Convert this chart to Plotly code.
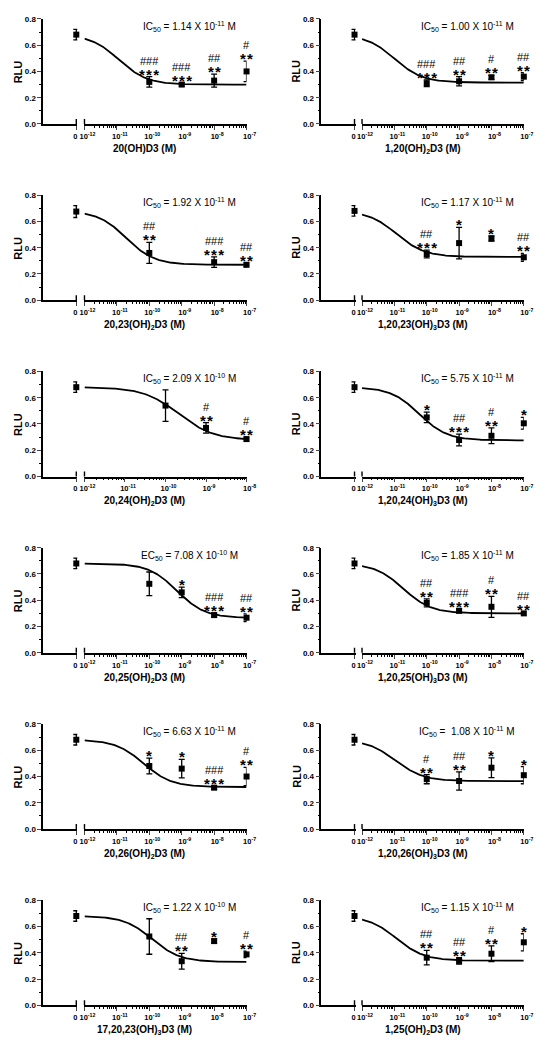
import numpy as np
import plotly.graph_objects as go

# ---------------- data ----------------
compounds = ["20(OH)D3 (M)", "1,20(OH)<sub>2</sub>D3 (M)",
             "20,23(OH)<sub>2</sub>D3 (M)", "1,20,23(OH)<sub>3</sub>D3 (M)",
             "20,24(OH)<sub>2</sub>D3 (M)", "1,20,24(OH)<sub>3</sub>D3 (M)",
             "20,25(OH)<sub>2</sub>D3 (M)", "1,20,25(OH)<sub>3</sub>D3 (M)",
             "20,26(OH)<sub>2</sub>D3 (M)", "1,20,26(OH)<sub>3</sub>D3 (M)",
             "17,20,23(OH)<sub>3</sub>D3 (M)", "1,25(OH)<sub>2</sub>D3 (M)"]
ec_prefix = ["IC", "IC", "IC", "IC", "IC", "IC", "EC", "IC", "IC", "IC", "IC", "IC"]
ec_mantissa = ["1.14", "1.00", "1.92", "1.17", "2.09", "5.75", "7.08", "1.85", "6.63", "&nbsp;1.08", "1.22", "1.15"]
ec_exponent = [-11, -11, -11, -11, -10, -11, -10, -11, -11, -11, -10, -11]

x_max_exp = [-7, -7, -7, -7, -8, -7, -7, -7, -7, -7, -7, -7]

zero_mean = [0.68, 0.68, 0.675, 0.68, 0.68, 0.68, 0.68, 0.68, 0.68, 0.68, 0.68, 0.68]
zero_err = [0.04, 0.04, 0.045, 0.04, 0.04, 0.04, 0.04, 0.04, 0.04, 0.04, 0.04, 0.04]

doses = [[1e-10, 1e-9, 1e-8, 1e-7], [1e-10, 1e-9, 1e-8, 1e-7],
         [1e-10, 1e-8, 1e-7], [1e-10, 1e-9, 1e-8, 1e-7],
         [1e-10, 1e-9, 1e-8], [1e-10, 1e-9, 1e-8, 1e-7],
         [1e-10, 1e-9, 1e-8, 1e-7], [1e-10, 1e-9, 1e-8, 1e-7],
         [1e-10, 1e-9, 1e-8, 1e-7], [1e-10, 1e-9, 1e-8, 1e-7],
         [1e-10, 1e-9, 1e-8, 1e-7], [1e-10, 1e-9, 1e-8, 1e-7]]
means = [[0.32, 0.30, 0.33, 0.40], [0.31, 0.325, 0.355, 0.36],
         [0.36, 0.29, 0.27], [0.352, 0.435, 0.47, 0.327],
         [0.54, 0.37, 0.285], [0.45, 0.278, 0.31, 0.405],
         [0.525, 0.46, 0.287, 0.267], [0.38, 0.32, 0.35, 0.30],
         [0.48, 0.46, 0.315, 0.40], [0.38, 0.366, 0.467, 0.41],
         [0.524, 0.336, 0.489, 0.388], [0.363, 0.338, 0.393, 0.48]]
errs = [[0.04, 0.012, 0.05, 0.078], [0.025, 0.035, 0.015, 0.03],
        [0.08, 0.04, 0.015], [0.03, 0.12, 0.02, 0.03],
        [0.12, 0.04, 0.015], [0.04, 0.045, 0.06, 0.045],
        [0.09, 0.04, 0.015, 0.03], [0.03, 0.015, 0.08, 0.008],
        [0.06, 0.07, 0.012, 0.07], [0.035, 0.07, 0.075, 0.065],
        [0.135, 0.06, 0.015, 0.025], [0.055, 0.025, 0.06, 0.065]]
sig_hash = [["###", "###", "##", "#"], ["###", "##", "#", "##"],
            ["##", "###", "##"], ["##", "", "", "##"],
            ["", "#", "#"], ["", "##", "#", ""],
            ["", "", "###", "##"], ["##", "###", "#", "##"],
            ["", "", "###", "#"], ["#", "##", "", ""],
            ["", "##", "", "#"], ["##", "##", "#", ""]]
sig_star = [["***", "***", "**", "**"], ["***", "**", "**", "**"],
            ["**", "***", "**"], ["***", "*", "*", "**"],
            ["", "**", "**"], ["*", "***", "**", "*"],
            ["", "*", "***", "**"], ["**", "***", "**", "**"],
            ["*", "*", "***", "**"], ["**", "**", "*", "*"],
            ["", "**", "*", "**"], ["**", "**", "**", "*"]]

# fitted sigmoid parameters
fit_top = [0.68] * 12
fit_bottom = [0.30, 0.315, 0.27, 0.33, 0.277, 0.275, 0.265, 0.30, 0.32, 0.365, 0.33, 0.34]
fit_ic50 = [1.14e-11, 1.00e-11, 1.92e-11, 1.17e-11, 2.09e-10, 5.75e-11,
            7.08e-10, 1.85e-11, 6.63e-11, 1.08e-11, 1.22e-10, 1.15e-11]
fit_hill = [1.0] * 12

y_ticks = [0.0, 0.2, 0.4, 0.6, 0.8]

# ---------------- layout geometry ----------------
W, H = 552, 1050
FONT = "Liberation Sans, Arial, sans-serif"
col_yaxis_px = [39.3, 325.3]
col_log_px = [(81.7, 248.3), (367.0, 533.3)]
zero_w = 35.0
row_top_px = [15 + 177.8 * r for r in range(6)]
plot_h = 106.0


def ax_id(letter, n):
    return letter if n == 1 else f"{letter}{n}"


def ax_key(letter, n):
    return f"{letter}axis" if n == 1 else f"{letter}axis{n}"


fig = go.Figure()
layout = {}
annotations = []
shapes = []

for i in range(12):
    r, c = divmod(i, 2)
    xz = ax_id("x", 2 * i + 1)
    xl = ax_id("x", 2 * i + 2)
    yy = ax_id("y", i + 1)
    top = row_top_px[r]
    bot = top + plot_h
    ydom = [1 - bot / H, 1 - top / H]
    yx = col_yaxis_px[c]
    lx0, lx1 = col_log_px[c]

    ytickfont = dict(family=FONT, size=8, color="black", weight="bold")
    xtickfont = dict(family=FONT, size=7.5, color="black", weight="bold")
    layout[ax_key("y", i + 1)] = dict(
        domain=ydom, range=[0, 0.8], anchor=xz, showline=True, linewidth=1.6,
        linecolor="black", ticks="outside", ticklen=4, tickwidth=1.4,
        tickvals=y_ticks, ticktext=[f"{v:.1f}" for v in y_ticks],
        tickfont=ytickfont, showgrid=False, zeroline=False,
        minor=dict(dtick=0.1, ticks="outside", ticklen=2, tickwidth=1, tickcolor="black"))
    layout[ax_key("x", 2 * i + 1)] = dict(
        domain=[yx / W, (yx + zero_w) / W], range=[-1, 0.03], anchor=yy,
        showline=True, linewidth=1.6, linecolor="black", ticks="outside",
        ticklen=4, tickwidth=1.4, tickvals=[0], ticktext=["0"], ticklabelshift=-1,
        tickfont=xtickfont, showgrid=False, zeroline=False)
    emax = x_max_exp[i]
    exps = list(range(-12, emax + 1))
    minor_vals = [k * 10.0 ** e for e in range(-12, emax) for k in range(2, 10)]
    layout[ax_key("x", 2 * i + 2)] = dict(
        type="log", domain=[lx0 / W, lx1 / W], range=[-12, emax], anchor=yy,
        showline=True, linewidth=1.6, linecolor="black", ticks="outside",
        ticklen=4, tickwidth=1.4, tickvals=[10.0 ** e for e in exps],
        ticktext=[f"10<sup>{e}</sup>" for e in exps], ticklabelshift=3,
        tickfont=xtickfont, showgrid=False, zeroline=False,
        minor=dict(tickvals=minor_vals, ticks="outside", ticklen=2,
                   tickwidth=1, tickcolor="black", showgrid=False))

    # break marks crossing the axis
    for xref, xpos in ((f"{xz} domain", 1 / 1.03), (f"{xl} domain", 0.0)):
        shapes.append(dict(type="line", xref=xref, yref=yy, ysizemode="pixel",
                           yanchor=0, x0=xpos, x1=xpos, y0=-4, y1=5,
                           line=dict(color="black", width=1.4)))

    # zero-dose point
    fig.add_trace(go.Scatter(
        x=[0], y=[zero_mean[i]], xaxis=xz, yaxis=yy, mode="markers",
        marker=dict(symbol="square", size=6, color="black"),
        error_y=dict(type="data", array=[zero_err[i]], color="black", thickness=1.3, width=3),
        cliponaxis=False, showlegend=False))

    # fitted curve
    xs = np.logspace(-12, emax, 200)
    ys = fit_bottom[i] + (fit_top[i] - fit_bottom[i]) / (1 + (xs / fit_ic50[i]) ** fit_hill[i])
    fig.add_trace(go.Scatter(x=xs, y=ys, xaxis=xl, yaxis=yy, mode="lines",
                             line=dict(color="black", width=1.8), showlegend=False))

    # dose points
    fig.add_trace(go.Scatter(
        x=doses[i], y=means[i], xaxis=xl, yaxis=yy, mode="markers",
        marker=dict(symbol="square", size=6, color="black"),
        error_y=dict(type="data", array=errs[i], color="black", thickness=1.3, width=3),
        cliponaxis=False, showlegend=False))

    # significance marks
    for d, m, e, h, s in zip(doses[i], means[i], errs[i], sig_hash[i], sig_star[i]):
        if s:
            annotations.append(dict(
                x=np.log10(d), y=m + e, xref=xl, yref=yy, text="\u200a".join(s),
                showarrow=False, xanchor="center", yanchor="bottom", yshift=-8,
                font=dict(family=FONT, size=15, color="black", weight="bold")))
        if h:
            annotations.append(dict(
                x=np.log10(d), y=m + e, xref=xl, yref=yy, text=h, showarrow=False,
                xanchor="center", yanchor="bottom", yshift=8,
                font=dict(family=FONT, size=11, color="black")))

    # IC50 / EC50 label
    annotations.append(dict(
        x=0.65, y=0.93, xref=f"{xl} domain", yref=f"{yy} domain",
        xanchor="center", yanchor="middle",
        text=f"{ec_prefix[i]}<sub>50</sub> = {ec_mantissa[i]} X 10<sup>{ec_exponent[i]}</sup> M",
        showarrow=False, font=dict(family=FONT, size=10, color="black")))

    # x-axis title
    annotations.append(dict(
        x=((yx + lx1) / 2) / W, y=1 - (bot + 25) / H, xref="paper", yref="paper",
        text=compounds[i], showarrow=False, xanchor="center", yanchor="middle",
        font=dict(family=FONT, size=10, color="black", weight="bold")))

    # y-axis title
    annotations.append(dict(
        x=(yx - 26) / W, y=1 - (top + plot_h / 2) / H, xref="paper", yref="paper",
        text="RLU", textangle=-90, showarrow=False, xanchor="center", yanchor="middle",
        font=dict(family=FONT, size=11, color="black", weight="bold")))

layout.update(dict(
    width=W, height=H, margin=dict(l=0, r=0, t=0, b=0),
    paper_bgcolor="white", plot_bgcolor="white", showlegend=False,
    annotations=annotations, shapes=shapes,
    font=dict(family=FONT, color="black")))
fig.update_layout(**layout)
fig.write_html("out.html", config={"displayModeBar": False},
               post_script="document.body.style.margin='0';")
